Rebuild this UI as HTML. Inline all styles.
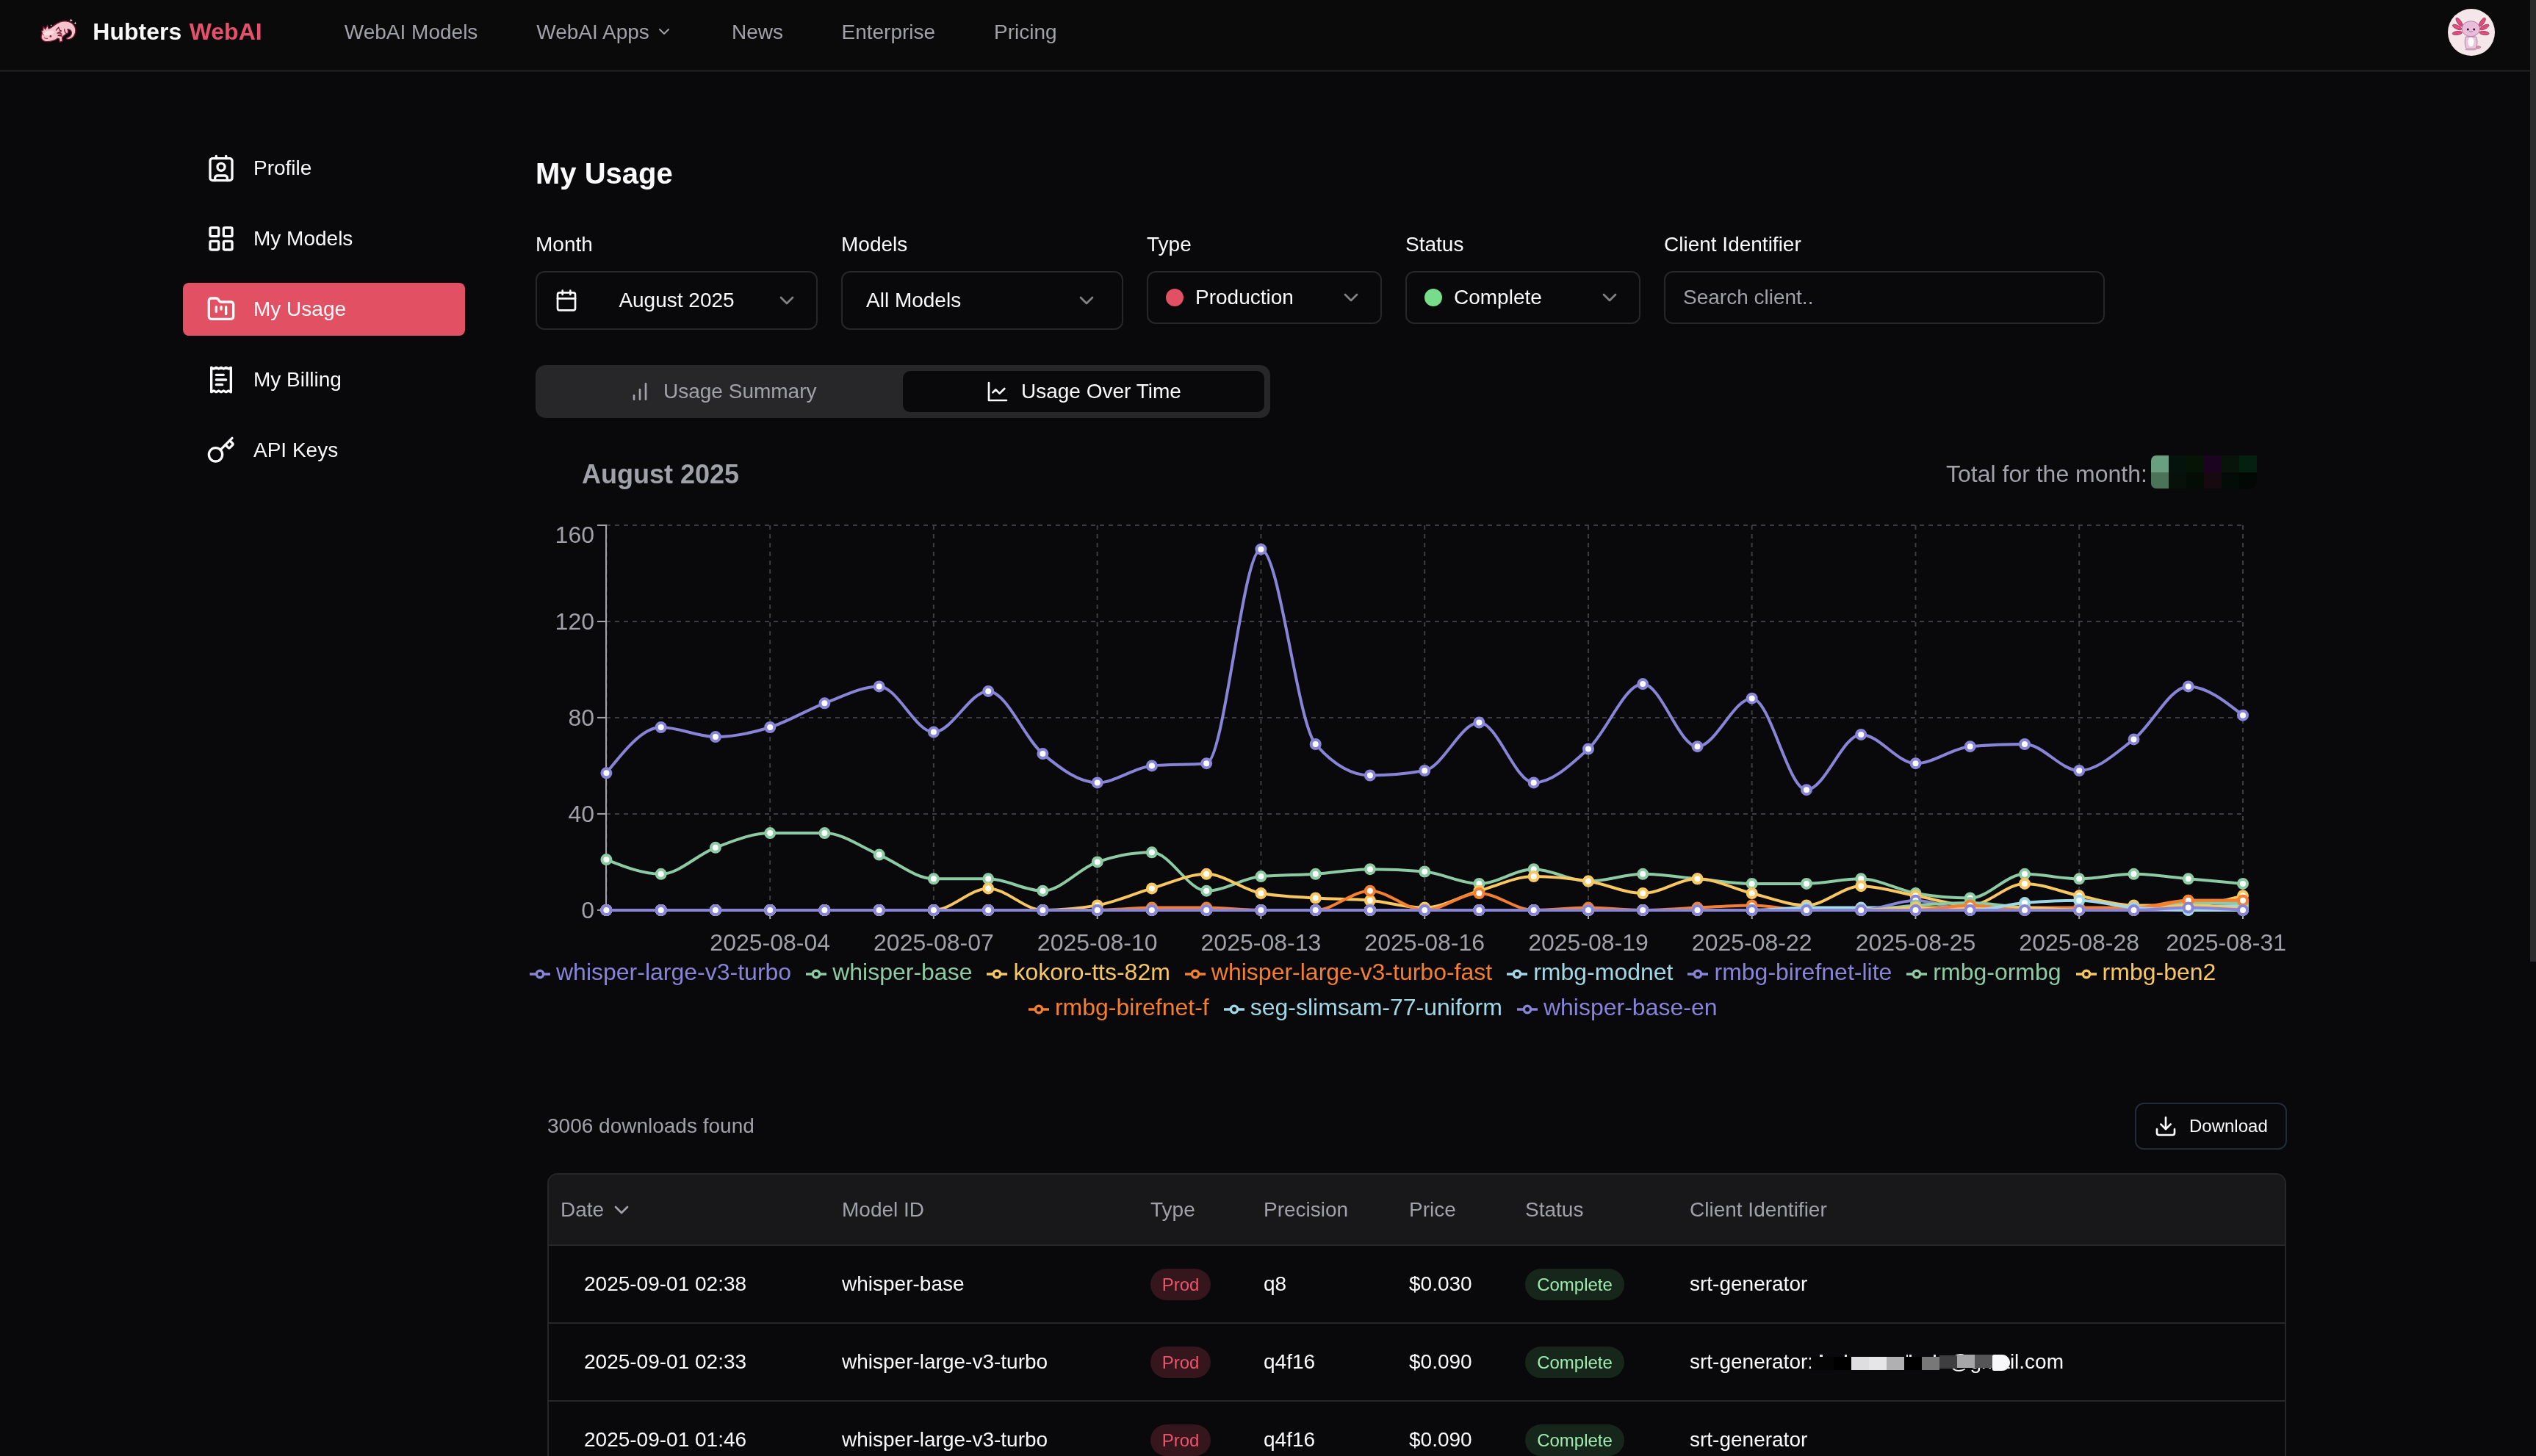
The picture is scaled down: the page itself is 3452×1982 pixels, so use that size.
<!DOCTYPE html>
<html><head><meta charset="utf-8"><title>Hubters WebAI - My Usage</title>
<style>
html,body{margin:0;padding:0;background:#09090b;}
body{width:3452px;height:1982px;position:relative;overflow:hidden;font-family:"Liberation Sans",sans-serif;color:#fafafa;}
#root{position:absolute;left:0;top:0;width:3452px;height:1982px;overflow:hidden;will-change:transform;background:#09090b;}
.abs{position:absolute;}
.t{white-space:nowrap;}
.legend{position:absolute;left:704.2px;top:1299px;width:2349px;text-align:center;font-size:32px;line-height:48px;white-space:nowrap;}
.legend .li{display:inline-block;margin-right:20px;}
.legend svg{display:inline-block;vertical-align:middle;margin-right:8px;}
</style></head><body><div id="root">
<div class="abs" style="left:0;top:0;width:3452px;height:96px;background:#0a0a0a"></div>
<div class="abs" style="left:0;top:95px;width:3452px;height:1px;background:#131313"></div>
<div class="abs" style="left:0;top:96px;width:3452px;height:1px;background:#2a2a2a"></div>
<div class="abs" style="left:0;top:97px;width:3452px;height:1px;background:#131315"></div>
<svg class="abs" style="left:45px;top:15px" width="70" height="55" viewBox="0 0 1853 1456">
<g stroke="#7d1935" stroke-width="34" stroke-linejoin="round" stroke-linecap="round">
<path fill="#f4c3cc" d="M330 800 L300 720 L360 700 L370 560 L440 660 L520 510 L560 640 C680 620 760 480 960 400 C1150 330 1400 360 1500 560 C1580 740 1500 960 1320 1010 C1250 1025 1190 1000 1200 970 C1300 950 1400 880 1385 760 C1375 690 1300 650 1240 665 C1290 740 1270 800 1210 815 C1150 860 1080 900 1050 960 L1060 1090 L960 1120 L940 1000 L880 985 C800 1060 600 1120 450 1100 C340 1080 270 980 300 880 Z"/>
<path fill="none" d="M830 690 L920 590 L960 690 L1020 720 L870 800 L990 790 L1030 840 L900 880 L1040 900"/>
<path fill="none" d="M1130 650 C1130 720 1160 790 1210 815"/>
</g>
<path fill="#f9dde2" d="M380 800 C480 700 700 680 780 760 C700 860 500 900 380 860 Z"/>
<circle cx="632" cy="910" r="36" fill="#7d1935"/><circle cx="372" cy="860" r="22" fill="#7d1935"/>
<path d="M400 970 Q460 1000 520 992" fill="none" stroke="#7d1935" stroke-width="22" stroke-linecap="round"/>
<path fill="#f7d3da" d="M1370 280 L1390 315 L1425 332 L1390 350 L1370 385 L1350 350 L1315 332 L1350 315Z M1520 390 L1537 422 L1568 437 L1537 452 L1520 485 L1503 452 L1472 437 L1503 422Z M655 485 L668 505 L690 512 L668 520 L655 540 L642 520 L620 512 L642 505Z"/>
</svg>
<div class="abs t" style="left:126.3px;top:26.91px;font-size:32px;line-height:32px;color:#fafafa;font-weight:bold;"><span>Hubters </span><span style="color:#e5506a;margin-left:1.6px">WebAI</span></div>
<div class="abs t" style="left:468.8px;top:29.70px;font-size:28px;line-height:28px;color:#a1a1aa;font-weight:normal;">WebAI Models</div>
<div class="abs t" style="left:730.3px;top:29.70px;font-size:28px;line-height:28px;color:#a1a1aa;font-weight:normal;">WebAI Apps</div>
<svg class="abs" style="left:892px;top:31px;" width="24" height="24" viewBox="0 0 24 24" fill="none" stroke="#a1a1aa" stroke-width="2" stroke-linecap="round" stroke-linejoin="round"><path d="m6 9 6 6 6-6"/></svg>
<div class="abs t" style="left:996px;top:29.70px;font-size:28px;line-height:28px;color:#a1a1aa;font-weight:normal;">News</div>
<div class="abs t" style="left:1145.5px;top:29.70px;font-size:28px;line-height:28px;color:#a1a1aa;font-weight:normal;">Enterprise</div>
<div class="abs t" style="left:1353px;top:29.70px;font-size:28px;line-height:28px;color:#a1a1aa;font-weight:normal;">Pricing</div>
<svg class="abs" style="left:3332px;top:12px" width="64" height="64" viewBox="0 0 64 64">
<circle cx="32" cy="32" r="32" fill="#f5e6ea"/>
<g fill="#d8507e" stroke="#a82c58" stroke-width="0.8">
<ellipse cx="15.6" cy="18.2" rx="2.6" ry="7" transform="rotate(-35 15.6 18.2)"/>
<ellipse cx="12.6" cy="25" rx="2.6" ry="6.8" transform="rotate(-64 12.6 25)"/>
<ellipse cx="12.8" cy="33" rx="2.5" ry="6.6" transform="rotate(-97 12.8 33)"/>
<ellipse cx="46.8" cy="18.2" rx="2.6" ry="7" transform="rotate(35 46.8 18.2)"/>
<ellipse cx="49.8" cy="25" rx="2.6" ry="6.8" transform="rotate(64 49.8 25)"/>
<ellipse cx="49.6" cy="33" rx="2.5" ry="6.6" transform="rotate(97 49.6 33)"/>
</g>
<path d="M45 52 C42 50 38 50 38 54 C40 54 43 55 45 52Z" fill="#e38bb0" stroke="#b04870" stroke-width=".6"/>
<path d="M24.5 38 C22 44 23.5 52 25.5 54.5 L37.5 54.5 C40 52 41 44 38.5 38Z" fill="#ecc3dc" stroke="#9a5c84" stroke-width=".7"/>
<ellipse cx="31.5" cy="45" rx="4" ry="6.5" fill="#fff"/>
<ellipse cx="31.3" cy="27.2" rx="12.3" ry="10.5" fill="#e9bdd9" stroke="#9a5c84" stroke-width=".7"/>
<circle cx="27.3" cy="28" r="1.5" fill="#2a1a30"/><circle cx="35.7" cy="28" r="1.5" fill="#2a1a30"/>
<path d="M29.5 30.8 Q31.5 32.6 33.5 30.8" fill="none" stroke="#5a2a4a" stroke-width=".6" stroke-linecap="round"/>
<ellipse cx="31" cy="55.5" rx="8" ry="1" fill="#c9a3b5"/>
</svg>
<svg class="abs" style="left:281px;top:209px;" width="40" height="40" viewBox="0 0 24 24" fill="none" stroke="#fafafa" stroke-width="2" stroke-linecap="round" stroke-linejoin="round"><path d="M16 2v2"/><path d="M7 22v-2a2 2 0 0 1 2-2h6a2 2 0 0 1 2 2v2"/><path d="M8 2v2"/><circle cx="12" cy="11" r="3"/><rect x="3" y="4" width="18" height="18" rx="2"/></svg>
<div class="abs t" style="left:345px;top:215.40px;font-size:28px;line-height:28px;color:#fafafa;font-weight:normal;">Profile</div>
<svg class="abs" style="left:281px;top:305px;" width="40" height="40" viewBox="0 0 24 24" fill="none" stroke="#fafafa" stroke-width="2" stroke-linecap="round" stroke-linejoin="round"><rect width="7" height="7" x="3" y="3" rx="1"/><rect width="7" height="7" x="14" y="3" rx="1"/><rect width="7" height="7" x="14" y="14" rx="1"/><rect width="7" height="7" x="3" y="14" rx="1"/></svg>
<div class="abs t" style="left:345px;top:311.40px;font-size:28px;line-height:28px;color:#fafafa;font-weight:normal;">My Models</div>
<div class="abs" style="left:249px;top:385px;width:384px;height:72px;border-radius:8px;background:#e15063"></div>
<svg class="abs" style="left:281px;top:401px;" width="40" height="40" viewBox="0 0 24 24" fill="none" stroke="#fafafa" stroke-width="2" stroke-linecap="round" stroke-linejoin="round"><path d="M4 20h16a2 2 0 0 0 2-2V8a2 2 0 0 0-2-2h-7.93a2 2 0 0 1-1.66-.9l-.82-1.2A2 2 0 0 0 7.93 3H4a2 2 0 0 0-2 2v13c0 1.1.9 2 2 2Z"/><path d="M8 10v4"/><path d="M12 10v2"/><path d="M16 10v6"/></svg>
<div class="abs t" style="left:345px;top:407.40px;font-size:28px;line-height:28px;color:#fafafa;font-weight:normal;">My Usage</div>
<svg class="abs" style="left:281px;top:497px;" width="40" height="40" viewBox="0 0 24 24" fill="none" stroke="#fafafa" stroke-width="2" stroke-linecap="round" stroke-linejoin="round"><path d="M4 2v20l2-1 2 1 2-1 2 1 2-1 2 1 2-1 2 1V2l-2 1-2-1-2 1-2-1-2 1-2-1-2 1Z"/><path d="M14 8H8"/><path d="M16 12H8"/><path d="M13 16H8"/></svg>
<div class="abs t" style="left:345px;top:503.40px;font-size:28px;line-height:28px;color:#fafafa;font-weight:normal;">My Billing</div>
<svg class="abs" style="left:281px;top:593px;" width="40" height="40" viewBox="0 0 24 24" fill="none" stroke="#fafafa" stroke-width="2" stroke-linecap="round" stroke-linejoin="round"><path d="m15.5 7.5 2.3 2.3a1 1 0 0 0 1.4 0l2.1-2.1a1 1 0 0 0 0-1.4L19 4"/><path d="m21 2-9.6 9.6"/><circle cx="7.5" cy="15.5" r="5.5"/></svg>
<div class="abs t" style="left:345px;top:599.40px;font-size:28px;line-height:28px;color:#fafafa;font-weight:normal;">API Keys</div>
<div class="abs t" style="left:729px;top:216.44px;font-size:40px;line-height:40px;color:#fafafa;font-weight:bold;">My Usage</div>
<div class="abs t" style="left:729px;top:318.60px;font-size:28px;line-height:28px;color:#fafafa;font-weight:normal;">Month</div>
<div class="abs t" style="left:1145px;top:318.60px;font-size:28px;line-height:28px;color:#fafafa;font-weight:normal;">Models</div>
<div class="abs t" style="left:1561px;top:318.60px;font-size:28px;line-height:28px;color:#fafafa;font-weight:normal;">Type</div>
<div class="abs t" style="left:1913px;top:318.60px;font-size:28px;line-height:28px;color:#fafafa;font-weight:normal;">Status</div>
<div class="abs t" style="left:2265px;top:318.60px;font-size:28px;line-height:28px;color:#fafafa;font-weight:normal;">Client Identifier</div>
<div class="abs" style="left:729px;top:369px;width:384px;height:80px;border:2px solid #27272a;border-radius:12px;box-sizing:border-box;"></div>
<svg class="abs" style="left:755px;top:393px;" width="32" height="32" viewBox="0 0 24 24" fill="none" stroke="#fafafa" stroke-width="2" stroke-linecap="round" stroke-linejoin="round"><path d="M8 2v4"/><path d="M16 2v4"/><rect width="18" height="18" x="3" y="4" rx="2"/><path d="M3 10h18"/></svg>
<div class="abs t" style="left:729px;width:384px;text-align:center;top:395.20px;font-size:28px;line-height:28px;color:#fafafa">August 2025</div>
<svg class="abs" style="left:1055px;top:393px;opacity:.5" width="32" height="32" viewBox="0 0 24 24" fill="none" stroke="#fafafa" stroke-width="2" stroke-linecap="round" stroke-linejoin="round"><path d="m6 9 6 6 6-6"/></svg>
<div class="abs" style="left:1145px;top:369px;width:384px;height:80px;border:2px solid #27272a;border-radius:12px;box-sizing:border-box;"></div>
<div class="abs t" style="left:1179px;top:395.20px;font-size:28px;line-height:28px;color:#fafafa;font-weight:normal;">All Models</div>
<svg class="abs" style="left:1463px;top:393px;opacity:.5" width="32" height="32" viewBox="0 0 24 24" fill="none" stroke="#fafafa" stroke-width="2" stroke-linecap="round" stroke-linejoin="round"><path d="m6 9 6 6 6-6"/></svg>
<div class="abs" style="left:1561px;top:369px;width:320px;height:72px;border:2px solid #27272a;border-radius:12px;box-sizing:border-box;"></div>
<div class="abs" style="left:1587px;top:393px;width:24px;height:24px;border-radius:50%;background:#e15063"></div>
<div class="abs t" style="left:1627px;top:391.20px;font-size:28px;line-height:28px;color:#fafafa;font-weight:normal;">Production</div>
<svg class="abs" style="left:1823px;top:389px;opacity:.5" width="32" height="32" viewBox="0 0 24 24" fill="none" stroke="#fafafa" stroke-width="2" stroke-linecap="round" stroke-linejoin="round"><path d="m6 9 6 6 6-6"/></svg>
<div class="abs" style="left:1913px;top:369px;width:320px;height:72px;border:2px solid #27272a;border-radius:12px;box-sizing:border-box;"></div>
<div class="abs" style="left:1939px;top:393px;width:24px;height:24px;border-radius:50%;background:#77dd8a"></div>
<div class="abs t" style="left:1979px;top:391.20px;font-size:28px;line-height:28px;color:#fafafa;font-weight:normal;">Complete</div>
<svg class="abs" style="left:2175px;top:389px;opacity:.5" width="32" height="32" viewBox="0 0 24 24" fill="none" stroke="#fafafa" stroke-width="2" stroke-linecap="round" stroke-linejoin="round"><path d="m6 9 6 6 6-6"/></svg>
<div class="abs" style="left:2265px;top:369px;width:600px;height:72px;border:2px solid #27272a;border-radius:12px;box-sizing:border-box;"></div>
<div class="abs t" style="left:2291px;top:391.20px;font-size:28px;line-height:28px;color:#a1a1aa;font-weight:normal;">Search client..</div>
<div class="abs" style="left:729px;top:497px;width:1000px;height:72px;border-radius:14px;background:#27272a"></div>
<div class="abs" style="left:1229px;top:505px;width:492px;height:56px;border-radius:10px;background:#09090b"></div>
<svg class="abs" style="left:855px;top:517px;" width="32" height="32" viewBox="0 0 24 24" fill="none" stroke="#a1a1aa" stroke-width="2" stroke-linecap="round" stroke-linejoin="round"><line x1="12" x2="12" y1="20" y2="10"/><line x1="18" x2="18" y1="20" y2="4"/><line x1="6" x2="6" y1="20" y2="16"/></svg>
<div class="abs t" style="left:903px;top:518.60px;font-size:28px;line-height:28px;color:#a1a1aa;font-weight:normal;">Usage Summary</div>
<svg class="abs" style="left:1342px;top:517px;" width="32" height="32" viewBox="0 0 24 24" fill="none" stroke="#fafafa" stroke-width="2" stroke-linecap="round" stroke-linejoin="round"><path d="M3 3v18h18"/><path d="m19 9-5 5-4-4-3 3"/></svg>
<div class="abs t" style="left:1390px;top:518.60px;font-size:28px;line-height:28px;color:#fafafa;font-weight:normal;">Usage Over Time</div>
<div class="abs t" style="left:792px;top:628.13px;font-size:36px;line-height:36px;color:#a1a1aa;font-weight:bold;">August 2025</div>
<div class="abs t" style="left:2649px;top:628.71px;font-size:32px;line-height:32px;color:#a1a1aa;font-weight:normal;">Total for the month:</div>
<div class="abs" style="left:2928px;top:620px;width:144px;height:45px;border-radius:7px 0 12px 7px;overflow:hidden"><div class="abs" style="left:0px;top:0;width:24px;height:23px;background:#6a9f80"></div><div class="abs" style="left:0px;top:23px;width:24px;height:22px;background:#4a7358"></div><div class="abs" style="left:24px;top:0;width:24px;height:23px;background:#04140c"></div><div class="abs" style="left:24px;top:23px;width:24px;height:22px;background:#08100a"></div><div class="abs" style="left:48px;top:0;width:24px;height:23px;background:#051405"></div><div class="abs" style="left:48px;top:23px;width:24px;height:22px;background:#040c06"></div><div class="abs" style="left:72px;top:0;width:24px;height:23px;background:#1a0420"></div><div class="abs" style="left:72px;top:23px;width:24px;height:22px;background:#160a10"></div><div class="abs" style="left:96px;top:0;width:24px;height:23px;background:#08140a"></div><div class="abs" style="left:96px;top:23px;width:24px;height:22px;background:#040c08"></div><div class="abs" style="left:120px;top:0;width:24px;height:23px;background:#04200f"></div><div class="abs" style="left:120px;top:23px;width:24px;height:22px;background:#020804"></div></div>
<svg class="abs" style="left:0;top:0" width="3452" height="1982" viewBox="0 0 3452 1982">
<g stroke="#3c3c41" stroke-width="2" stroke-dasharray="6 6" fill="none"><line x1="825" x2="3054" y1="1238.9" y2="1238.9"/><line x1="825" x2="3054" y1="1107.9" y2="1107.9"/><line x1="825" x2="3054" y1="976.9" y2="976.9"/><line x1="825" x2="3054" y1="846.0" y2="846.0"/><line x1="825" x2="3054" y1="715.0" y2="715.0"/><line y1="715" y2="1239" x1="825.4" x2="825.4"/><line y1="715" y2="1239" x1="1048.2" x2="1048.2"/><line y1="715" y2="1239" x1="1270.9" x2="1270.9"/><line y1="715" y2="1239" x1="1493.7" x2="1493.7"/><line y1="715" y2="1239" x1="1716.4" x2="1716.4"/><line y1="715" y2="1239" x1="1939.2" x2="1939.2"/><line y1="715" y2="1239" x1="2162.0" x2="2162.0"/><line y1="715" y2="1239" x1="2384.7" x2="2384.7"/><line y1="715" y2="1239" x1="2607.5" x2="2607.5"/><line y1="715" y2="1239" x1="2830.2" x2="2830.2"/><line y1="715" y2="1239" x1="3053.0" x2="3053.0"/></g>
<g stroke="#a3a3a8" stroke-width="2" fill="none"><line x1="825" x2="825" y1="714" y2="1240"/><line x1="825" x2="3054" y1="1239" y2="1239"/><line x1="813" x2="825" y1="1238.9" y2="1238.9"/><line x1="813" x2="825" y1="1107.9" y2="1107.9"/><line x1="813" x2="825" y1="976.9" y2="976.9"/><line x1="813" x2="825" y1="846.0" y2="846.0"/><line x1="813" x2="825" y1="715.0" y2="715.0"/><line y1="1239" y2="1251" x1="1048.2" x2="1048.2"/><line y1="1239" y2="1251" x1="1270.9" x2="1270.9"/><line y1="1239" y2="1251" x1="1493.7" x2="1493.7"/><line y1="1239" y2="1251" x1="1716.4" x2="1716.4"/><line y1="1239" y2="1251" x1="1939.2" x2="1939.2"/><line y1="1239" y2="1251" x1="2162.0" x2="2162.0"/><line y1="1239" y2="1251" x1="2384.7" x2="2384.7"/><line y1="1239" y2="1251" x1="2607.5" x2="2607.5"/><line y1="1239" y2="1251" x1="2830.2" x2="2830.2"/><line y1="1239" y2="1251" x1="3053.0" x2="3053.0"/></g>
<g fill="#a1a1aa" font-family="Liberation Sans, sans-serif" font-size="32"><text x="809" y="1249.9" text-anchor="end">0</text><text x="809" y="1118.9" text-anchor="end">40</text><text x="809" y="987.9" text-anchor="end">80</text><text x="809" y="857.0" text-anchor="end">120</text><text x="809" y="739.0" text-anchor="end">160</text><text x="1048.2" y="1293.7" text-anchor="middle">2025-08-04</text><text x="1270.9" y="1293.7" text-anchor="middle">2025-08-07</text><text x="1493.7" y="1293.7" text-anchor="middle">2025-08-10</text><text x="1716.4" y="1293.7" text-anchor="middle">2025-08-13</text><text x="1939.2" y="1293.7" text-anchor="middle">2025-08-16</text><text x="2162.0" y="1293.7" text-anchor="middle">2025-08-19</text><text x="2384.7" y="1293.7" text-anchor="middle">2025-08-22</text><text x="2607.5" y="1293.7" text-anchor="middle">2025-08-25</text><text x="2830.2" y="1293.7" text-anchor="middle">2025-08-28</text><text x="3112" y="1293.7" text-anchor="end">2025-08-31</text></g>
<path d="M825.4,1052.3C850.2,1021.1,874.9,990.0,899.7,990.0C924.4,990.0,949.2,1003.1,973.9,1003.1C998.7,1003.1,1023.4,997.7,1048.2,990.0C1072.9,982.4,1097.7,966.6,1122.4,957.3C1147.2,948.0,1171.9,934.4,1196.7,934.4C1221.4,934.4,1246.2,996.6,1270.9,996.6C1295.7,996.6,1320.4,940.9,1345.2,940.9C1369.9,940.9,1394.7,1005.3,1419.4,1026.1C1444.2,1046.8,1468.9,1065.4,1493.7,1065.4C1518.4,1065.4,1543.2,1044.6,1567.9,1042.4C1592.7,1040.2,1617.4,1041.3,1642.2,1039.2C1666.9,1037.0,1691.7,747.7,1716.4,747.7C1741.2,747.7,1765.9,984.6,1790.7,1013.0C1815.4,1041.3,1840.2,1055.5,1864.9,1055.5C1889.7,1055.5,1914.4,1053.3,1939.2,1049.0C1963.9,1044.6,1988.7,983.5,2013.4,983.5C2038.2,983.5,2062.9,1065.4,2087.7,1065.4C2112.5,1065.4,2137.2,1041.9,2162.0,1019.5C2186.7,997.1,2211.5,931.1,2236.2,931.1C2261.0,931.1,2285.7,1016.2,2310.5,1016.2C2335.2,1016.2,2360.0,950.7,2384.7,950.7C2409.5,950.7,2434.2,1075.2,2459.0,1075.2C2483.7,1075.2,2508.5,999.9,2533.2,999.9C2558.0,999.9,2582.7,1039.2,2607.5,1039.2C2632.2,1039.2,2657.0,1018.4,2681.7,1016.2C2706.5,1014.1,2731.2,1013.0,2756.0,1013.0C2780.7,1013.0,2805.5,1049.0,2830.2,1049.0C2855.0,1049.0,2879.7,1025.5,2904.5,1006.4C2929.2,987.3,2954.0,934.4,2978.7,934.4C3003.5,934.4,3028.2,954.0,3053.0,973.7" fill="none" stroke="#8884d8" stroke-width="4"/>
<g fill="#fff" stroke="#8884d8" stroke-width="4"><circle cx="825.4" cy="1052.3" r="6"/><circle cx="899.7" cy="990.0" r="6"/><circle cx="973.9" cy="1003.1" r="6"/><circle cx="1048.2" cy="990.0" r="6"/><circle cx="1122.4" cy="957.3" r="6"/><circle cx="1196.7" cy="934.4" r="6"/><circle cx="1270.9" cy="996.6" r="6"/><circle cx="1345.2" cy="940.9" r="6"/><circle cx="1419.4" cy="1026.1" r="6"/><circle cx="1493.7" cy="1065.4" r="6"/><circle cx="1567.9" cy="1042.4" r="6"/><circle cx="1642.2" cy="1039.2" r="6"/><circle cx="1716.4" cy="747.7" r="6"/><circle cx="1790.7" cy="1013.0" r="6"/><circle cx="1864.9" cy="1055.5" r="6"/><circle cx="1939.2" cy="1049.0" r="6"/><circle cx="2013.4" cy="983.5" r="6"/><circle cx="2087.7" cy="1065.4" r="6"/><circle cx="2162.0" cy="1019.5" r="6"/><circle cx="2236.2" cy="931.1" r="6"/><circle cx="2310.5" cy="1016.2" r="6"/><circle cx="2384.7" cy="950.7" r="6"/><circle cx="2459.0" cy="1075.2" r="6"/><circle cx="2533.2" cy="999.9" r="6"/><circle cx="2607.5" cy="1039.2" r="6"/><circle cx="2681.7" cy="1016.2" r="6"/><circle cx="2756.0" cy="1013.0" r="6"/><circle cx="2830.2" cy="1049.0" r="6"/><circle cx="2904.5" cy="1006.4" r="6"/><circle cx="2978.7" cy="934.4" r="6"/><circle cx="3053.0" cy="973.7" r="6"/></g>
<path d="M825.4,1170.1C850.2,1180.0,874.9,1189.8,899.7,1189.8C924.4,1189.8,949.2,1163.0,973.9,1153.8C998.7,1144.5,1023.4,1134.1,1048.2,1134.1C1072.9,1134.1,1097.7,1134.1,1122.4,1134.1C1147.2,1134.1,1171.9,1153.2,1196.7,1163.6C1221.4,1174.0,1246.2,1196.3,1270.9,1196.3C1295.7,1196.3,1320.4,1196.3,1345.2,1196.3C1369.9,1196.3,1394.7,1212.7,1419.4,1212.7C1444.2,1212.7,1468.9,1182.1,1493.7,1173.4C1518.4,1164.7,1543.2,1160.3,1567.9,1160.3C1592.7,1160.3,1617.4,1212.7,1642.2,1212.7C1666.9,1212.7,1691.7,1195.2,1716.4,1193.1C1741.2,1190.9,1765.9,1191.4,1790.7,1189.8C1815.4,1188.1,1840.2,1183.2,1864.9,1183.2C1889.7,1183.2,1914.4,1184.3,1939.2,1186.5C1963.9,1188.7,1988.7,1202.9,2013.4,1202.9C2038.2,1202.9,2062.9,1183.2,2087.7,1183.2C2112.5,1183.2,2137.2,1199.6,2162.0,1199.6C2186.7,1199.6,2211.5,1189.8,2236.2,1189.8C2261.0,1189.8,2285.7,1194.1,2310.5,1196.3C2335.2,1198.5,2360.0,1202.9,2384.7,1202.9C2409.5,1202.9,2434.2,1202.9,2459.0,1202.9C2483.7,1202.9,2508.5,1196.3,2533.2,1196.3C2558.0,1196.3,2582.7,1211.6,2607.5,1216.0C2632.2,1220.3,2657.0,1222.5,2681.7,1222.5C2706.5,1222.5,2731.2,1189.8,2756.0,1189.8C2780.7,1189.8,2805.5,1196.3,2830.2,1196.3C2855.0,1196.3,2879.7,1189.8,2904.5,1189.8C2929.2,1189.8,2954.0,1194.1,2978.7,1196.3C3003.5,1198.5,3028.2,1200.7,3053.0,1202.9" fill="none" stroke="#8ccba3" stroke-width="4"/>
<g fill="#fff" stroke="#8ccba3" stroke-width="4"><circle cx="825.4" cy="1170.1" r="6"/><circle cx="899.7" cy="1189.8" r="6"/><circle cx="973.9" cy="1153.8" r="6"/><circle cx="1048.2" cy="1134.1" r="6"/><circle cx="1122.4" cy="1134.1" r="6"/><circle cx="1196.7" cy="1163.6" r="6"/><circle cx="1270.9" cy="1196.3" r="6"/><circle cx="1345.2" cy="1196.3" r="6"/><circle cx="1419.4" cy="1212.7" r="6"/><circle cx="1493.7" cy="1173.4" r="6"/><circle cx="1567.9" cy="1160.3" r="6"/><circle cx="1642.2" cy="1212.7" r="6"/><circle cx="1716.4" cy="1193.1" r="6"/><circle cx="1790.7" cy="1189.8" r="6"/><circle cx="1864.9" cy="1183.2" r="6"/><circle cx="1939.2" cy="1186.5" r="6"/><circle cx="2013.4" cy="1202.9" r="6"/><circle cx="2087.7" cy="1183.2" r="6"/><circle cx="2162.0" cy="1199.6" r="6"/><circle cx="2236.2" cy="1189.8" r="6"/><circle cx="2310.5" cy="1196.3" r="6"/><circle cx="2384.7" cy="1202.9" r="6"/><circle cx="2459.0" cy="1202.9" r="6"/><circle cx="2533.2" cy="1196.3" r="6"/><circle cx="2607.5" cy="1216.0" r="6"/><circle cx="2681.7" cy="1222.5" r="6"/><circle cx="2756.0" cy="1189.8" r="6"/><circle cx="2830.2" cy="1196.3" r="6"/><circle cx="2904.5" cy="1189.8" r="6"/><circle cx="2978.7" cy="1196.3" r="6"/><circle cx="3053.0" cy="1202.9" r="6"/></g>
<path d="M825.4,1238.9C850.2,1238.9,874.9,1238.9,899.7,1238.9C924.4,1238.9,949.2,1238.9,973.9,1238.9C998.7,1238.9,1023.4,1238.9,1048.2,1238.9C1072.9,1238.9,1097.7,1238.9,1122.4,1238.9C1147.2,1238.9,1171.9,1238.9,1196.7,1238.9C1221.4,1238.9,1246.2,1238.9,1270.9,1238.9C1295.7,1238.9,1320.4,1209.4,1345.2,1209.4C1369.9,1209.4,1394.7,1238.9,1419.4,1238.9C1444.2,1238.9,1468.9,1236.7,1493.7,1232.4C1518.4,1228.0,1543.2,1216.5,1567.9,1209.4C1592.7,1202.3,1617.4,1189.8,1642.2,1189.8C1666.9,1189.8,1691.7,1211.6,1716.4,1216.0C1741.2,1220.3,1765.9,1220.9,1790.7,1222.5C1815.4,1224.2,1840.2,1223.6,1864.9,1225.8C1889.7,1228.0,1914.4,1235.6,1939.2,1235.6C1963.9,1235.6,1988.7,1219.8,2013.4,1212.7C2038.2,1205.6,2062.9,1193.1,2087.7,1193.1C2112.5,1193.1,2137.2,1195.8,2162.0,1199.6C2186.7,1203.4,2211.5,1216.0,2236.2,1216.0C2261.0,1216.0,2285.7,1196.3,2310.5,1196.3C2335.2,1196.3,2360.0,1210.0,2384.7,1216.0C2409.5,1222.0,2434.2,1232.4,2459.0,1232.4C2483.7,1232.4,2508.5,1206.2,2533.2,1206.2C2558.0,1206.2,2582.7,1214.9,2607.5,1219.3C2632.2,1223.6,2657.0,1232.4,2681.7,1232.4C2706.5,1232.4,2731.2,1202.9,2756.0,1202.9C2780.7,1202.9,2805.5,1214.3,2830.2,1219.3C2855.0,1224.2,2879.7,1232.4,2904.5,1232.4C2929.2,1232.4,2954.0,1232.4,2978.7,1232.4C3003.5,1232.4,3028.2,1225.8,3053.0,1219.3" fill="none" stroke="#f9c75f" stroke-width="4"/>
<g fill="#fff" stroke="#f9c75f" stroke-width="4"><circle cx="825.4" cy="1238.9" r="6"/><circle cx="899.7" cy="1238.9" r="6"/><circle cx="973.9" cy="1238.9" r="6"/><circle cx="1048.2" cy="1238.9" r="6"/><circle cx="1122.4" cy="1238.9" r="6"/><circle cx="1196.7" cy="1238.9" r="6"/><circle cx="1270.9" cy="1238.9" r="6"/><circle cx="1345.2" cy="1209.4" r="6"/><circle cx="1419.4" cy="1238.9" r="6"/><circle cx="1493.7" cy="1232.4" r="6"/><circle cx="1567.9" cy="1209.4" r="6"/><circle cx="1642.2" cy="1189.8" r="6"/><circle cx="1716.4" cy="1216.0" r="6"/><circle cx="1790.7" cy="1222.5" r="6"/><circle cx="1864.9" cy="1225.8" r="6"/><circle cx="1939.2" cy="1235.6" r="6"/><circle cx="2013.4" cy="1212.7" r="6"/><circle cx="2087.7" cy="1193.1" r="6"/><circle cx="2162.0" cy="1199.6" r="6"/><circle cx="2236.2" cy="1216.0" r="6"/><circle cx="2310.5" cy="1196.3" r="6"/><circle cx="2384.7" cy="1216.0" r="6"/><circle cx="2459.0" cy="1232.4" r="6"/><circle cx="2533.2" cy="1206.2" r="6"/><circle cx="2607.5" cy="1219.3" r="6"/><circle cx="2681.7" cy="1232.4" r="6"/><circle cx="2756.0" cy="1202.9" r="6"/><circle cx="2830.2" cy="1219.3" r="6"/><circle cx="2904.5" cy="1232.4" r="6"/><circle cx="2978.7" cy="1232.4" r="6"/><circle cx="3053.0" cy="1219.3" r="6"/></g>
<path d="M825.4,1238.9C850.2,1238.9,874.9,1238.9,899.7,1238.9C924.4,1238.9,949.2,1238.9,973.9,1238.9C998.7,1238.9,1023.4,1238.9,1048.2,1238.9C1072.9,1238.9,1097.7,1238.9,1122.4,1238.9C1147.2,1238.9,1171.9,1238.9,1196.7,1238.9C1221.4,1238.9,1246.2,1238.9,1270.9,1238.9C1295.7,1238.9,1320.4,1238.9,1345.2,1238.9C1369.9,1238.9,1394.7,1238.9,1419.4,1238.9C1444.2,1238.9,1468.9,1238.9,1493.7,1238.9C1518.4,1238.9,1543.2,1235.6,1567.9,1235.6C1592.7,1235.6,1617.4,1235.6,1642.2,1235.6C1666.9,1235.6,1691.7,1238.9,1716.4,1238.9C1741.2,1238.9,1765.9,1238.9,1790.7,1238.9C1815.4,1238.9,1840.2,1212.7,1864.9,1212.7C1889.7,1212.7,1914.4,1238.9,1939.2,1238.9C1963.9,1238.9,1988.7,1216.0,2013.4,1216.0C2038.2,1216.0,2062.9,1238.9,2087.7,1238.9C2112.5,1238.9,2137.2,1235.6,2162.0,1235.6C2186.7,1235.6,2211.5,1238.9,2236.2,1238.9C2261.0,1238.9,2285.7,1236.7,2310.5,1235.6C2335.2,1234.5,2360.0,1232.4,2384.7,1232.4C2409.5,1232.4,2434.2,1238.9,2459.0,1238.9C2483.7,1238.9,2508.5,1238.9,2533.2,1238.9C2558.0,1238.9,2582.7,1238.9,2607.5,1238.9C2632.2,1238.9,2657.0,1232.4,2681.7,1232.4C2706.5,1232.4,2731.2,1235.6,2756.0,1235.6C2780.7,1235.6,2805.5,1235.6,2830.2,1235.6C2855.0,1235.6,2879.7,1235.6,2904.5,1235.6C2929.2,1235.6,2954.0,1225.8,2978.7,1225.8C3003.5,1225.8,3028.2,1225.8,3053.0,1225.8" fill="none" stroke="#f47f30" stroke-width="4"/>
<g fill="#fff" stroke="#f47f30" stroke-width="4"><circle cx="825.4" cy="1238.9" r="6"/><circle cx="899.7" cy="1238.9" r="6"/><circle cx="973.9" cy="1238.9" r="6"/><circle cx="1048.2" cy="1238.9" r="6"/><circle cx="1122.4" cy="1238.9" r="6"/><circle cx="1196.7" cy="1238.9" r="6"/><circle cx="1270.9" cy="1238.9" r="6"/><circle cx="1345.2" cy="1238.9" r="6"/><circle cx="1419.4" cy="1238.9" r="6"/><circle cx="1493.7" cy="1238.9" r="6"/><circle cx="1567.9" cy="1235.6" r="6"/><circle cx="1642.2" cy="1235.6" r="6"/><circle cx="1716.4" cy="1238.9" r="6"/><circle cx="1790.7" cy="1238.9" r="6"/><circle cx="1864.9" cy="1212.7" r="6"/><circle cx="1939.2" cy="1238.9" r="6"/><circle cx="2013.4" cy="1216.0" r="6"/><circle cx="2087.7" cy="1238.9" r="6"/><circle cx="2162.0" cy="1235.6" r="6"/><circle cx="2236.2" cy="1238.9" r="6"/><circle cx="2310.5" cy="1235.6" r="6"/><circle cx="2384.7" cy="1232.4" r="6"/><circle cx="2459.0" cy="1238.9" r="6"/><circle cx="2533.2" cy="1238.9" r="6"/><circle cx="2607.5" cy="1238.9" r="6"/><circle cx="2681.7" cy="1232.4" r="6"/><circle cx="2756.0" cy="1235.6" r="6"/><circle cx="2830.2" cy="1235.6" r="6"/><circle cx="2904.5" cy="1235.6" r="6"/><circle cx="2978.7" cy="1225.8" r="6"/><circle cx="3053.0" cy="1225.8" r="6"/></g>
<path d="M825.4,1238.9C850.2,1238.9,874.9,1238.9,899.7,1238.9C924.4,1238.9,949.2,1238.9,973.9,1238.9C998.7,1238.9,1023.4,1238.9,1048.2,1238.9C1072.9,1238.9,1097.7,1238.9,1122.4,1238.9C1147.2,1238.9,1171.9,1238.9,1196.7,1238.9C1221.4,1238.9,1246.2,1238.9,1270.9,1238.9C1295.7,1238.9,1320.4,1238.9,1345.2,1238.9C1369.9,1238.9,1394.7,1238.9,1419.4,1238.9C1444.2,1238.9,1468.9,1238.9,1493.7,1238.9C1518.4,1238.9,1543.2,1238.9,1567.9,1238.9C1592.7,1238.9,1617.4,1238.9,1642.2,1238.9C1666.9,1238.9,1691.7,1238.9,1716.4,1238.9C1741.2,1238.9,1765.9,1238.9,1790.7,1238.9C1815.4,1238.9,1840.2,1238.9,1864.9,1238.9C1889.7,1238.9,1914.4,1238.9,1939.2,1238.9C1963.9,1238.9,1988.7,1238.9,2013.4,1238.9C2038.2,1238.9,2062.9,1238.9,2087.7,1238.9C2112.5,1238.9,2137.2,1238.9,2162.0,1238.9C2186.7,1238.9,2211.5,1238.9,2236.2,1238.9C2261.0,1238.9,2285.7,1238.9,2310.5,1238.9C2335.2,1238.9,2360.0,1238.9,2384.7,1238.9C2409.5,1238.9,2434.2,1235.6,2459.0,1235.6C2483.7,1235.6,2508.5,1235.6,2533.2,1235.6C2558.0,1235.6,2582.7,1235.6,2607.5,1235.6C2632.2,1235.6,2657.0,1238.9,2681.7,1238.9C2706.5,1238.9,2731.2,1238.9,2756.0,1238.9C2780.7,1238.9,2805.5,1238.9,2830.2,1238.9C2855.0,1238.9,2879.7,1238.9,2904.5,1238.9C2929.2,1238.9,2954.0,1234.1,2978.7,1233.7C3003.5,1233.2,3028.2,1233.1,3053.0,1233.0" fill="none" stroke="#a0d8e8" stroke-width="4"/>
<g fill="#fff" stroke="#a0d8e8" stroke-width="4"><circle cx="825.4" cy="1238.9" r="6"/><circle cx="899.7" cy="1238.9" r="6"/><circle cx="973.9" cy="1238.9" r="6"/><circle cx="1048.2" cy="1238.9" r="6"/><circle cx="1122.4" cy="1238.9" r="6"/><circle cx="1196.7" cy="1238.9" r="6"/><circle cx="1270.9" cy="1238.9" r="6"/><circle cx="1345.2" cy="1238.9" r="6"/><circle cx="1419.4" cy="1238.9" r="6"/><circle cx="1493.7" cy="1238.9" r="6"/><circle cx="1567.9" cy="1238.9" r="6"/><circle cx="1642.2" cy="1238.9" r="6"/><circle cx="1716.4" cy="1238.9" r="6"/><circle cx="1790.7" cy="1238.9" r="6"/><circle cx="1864.9" cy="1238.9" r="6"/><circle cx="1939.2" cy="1238.9" r="6"/><circle cx="2013.4" cy="1238.9" r="6"/><circle cx="2087.7" cy="1238.9" r="6"/><circle cx="2162.0" cy="1238.9" r="6"/><circle cx="2236.2" cy="1238.9" r="6"/><circle cx="2310.5" cy="1238.9" r="6"/><circle cx="2384.7" cy="1238.9" r="6"/><circle cx="2459.0" cy="1235.6" r="6"/><circle cx="2533.2" cy="1235.6" r="6"/><circle cx="2607.5" cy="1235.6" r="6"/><circle cx="2681.7" cy="1238.9" r="6"/><circle cx="2756.0" cy="1238.9" r="6"/><circle cx="2830.2" cy="1238.9" r="6"/><circle cx="2904.5" cy="1238.9" r="6"/><circle cx="2978.7" cy="1233.7" r="6"/><circle cx="3053.0" cy="1233.0" r="6"/></g>
<path d="M825.4,1238.9C850.2,1238.9,874.9,1238.9,899.7,1238.9C924.4,1238.9,949.2,1238.9,973.9,1238.9C998.7,1238.9,1023.4,1238.9,1048.2,1238.9C1072.9,1238.9,1097.7,1238.9,1122.4,1238.9C1147.2,1238.9,1171.9,1238.9,1196.7,1238.9C1221.4,1238.9,1246.2,1238.9,1270.9,1238.9C1295.7,1238.9,1320.4,1238.9,1345.2,1238.9C1369.9,1238.9,1394.7,1238.9,1419.4,1238.9C1444.2,1238.9,1468.9,1238.9,1493.7,1238.9C1518.4,1238.9,1543.2,1238.9,1567.9,1238.9C1592.7,1238.9,1617.4,1238.9,1642.2,1238.9C1666.9,1238.9,1691.7,1238.9,1716.4,1238.9C1741.2,1238.9,1765.9,1238.9,1790.7,1238.9C1815.4,1238.9,1840.2,1238.9,1864.9,1238.9C1889.7,1238.9,1914.4,1238.9,1939.2,1238.9C1963.9,1238.9,1988.7,1238.9,2013.4,1238.9C2038.2,1238.9,2062.9,1238.9,2087.7,1238.9C2112.5,1238.9,2137.2,1238.9,2162.0,1238.9C2186.7,1238.9,2211.5,1238.9,2236.2,1238.9C2261.0,1238.9,2285.7,1238.9,2310.5,1238.9C2335.2,1238.9,2360.0,1238.9,2384.7,1238.9C2409.5,1238.9,2434.2,1238.9,2459.0,1238.9C2483.7,1238.9,2508.5,1238.9,2533.2,1238.9C2558.0,1238.9,2582.7,1225.8,2607.5,1225.8C2632.2,1225.8,2657.0,1238.9,2681.7,1238.9C2706.5,1238.9,2731.2,1238.9,2756.0,1238.9C2780.7,1238.9,2805.5,1238.9,2830.2,1238.9C2855.0,1238.9,2879.7,1238.9,2904.5,1238.9C2929.2,1238.9,2954.0,1238.9,2978.7,1238.9C3003.5,1238.9,3028.2,1238.9,3053.0,1238.9" fill="none" stroke="#8884d8" stroke-width="4"/>
<g fill="#fff" stroke="#8884d8" stroke-width="4"><circle cx="825.4" cy="1238.9" r="6"/><circle cx="899.7" cy="1238.9" r="6"/><circle cx="973.9" cy="1238.9" r="6"/><circle cx="1048.2" cy="1238.9" r="6"/><circle cx="1122.4" cy="1238.9" r="6"/><circle cx="1196.7" cy="1238.9" r="6"/><circle cx="1270.9" cy="1238.9" r="6"/><circle cx="1345.2" cy="1238.9" r="6"/><circle cx="1419.4" cy="1238.9" r="6"/><circle cx="1493.7" cy="1238.9" r="6"/><circle cx="1567.9" cy="1238.9" r="6"/><circle cx="1642.2" cy="1238.9" r="6"/><circle cx="1716.4" cy="1238.9" r="6"/><circle cx="1790.7" cy="1238.9" r="6"/><circle cx="1864.9" cy="1238.9" r="6"/><circle cx="1939.2" cy="1238.9" r="6"/><circle cx="2013.4" cy="1238.9" r="6"/><circle cx="2087.7" cy="1238.9" r="6"/><circle cx="2162.0" cy="1238.9" r="6"/><circle cx="2236.2" cy="1238.9" r="6"/><circle cx="2310.5" cy="1238.9" r="6"/><circle cx="2384.7" cy="1238.9" r="6"/><circle cx="2459.0" cy="1238.9" r="6"/><circle cx="2533.2" cy="1238.9" r="6"/><circle cx="2607.5" cy="1225.8" r="6"/><circle cx="2681.7" cy="1238.9" r="6"/><circle cx="2756.0" cy="1238.9" r="6"/><circle cx="2830.2" cy="1238.9" r="6"/><circle cx="2904.5" cy="1238.9" r="6"/><circle cx="2978.7" cy="1238.9" r="6"/><circle cx="3053.0" cy="1238.9" r="6"/></g>
<path d="M825.4,1238.9C850.2,1238.9,874.9,1238.9,899.7,1238.9C924.4,1238.9,949.2,1238.9,973.9,1238.9C998.7,1238.9,1023.4,1238.9,1048.2,1238.9C1072.9,1238.9,1097.7,1238.9,1122.4,1238.9C1147.2,1238.9,1171.9,1238.9,1196.7,1238.9C1221.4,1238.9,1246.2,1238.9,1270.9,1238.9C1295.7,1238.9,1320.4,1238.9,1345.2,1238.9C1369.9,1238.9,1394.7,1238.9,1419.4,1238.9C1444.2,1238.9,1468.9,1238.9,1493.7,1238.9C1518.4,1238.9,1543.2,1238.9,1567.9,1238.9C1592.7,1238.9,1617.4,1238.9,1642.2,1238.9C1666.9,1238.9,1691.7,1238.9,1716.4,1238.9C1741.2,1238.9,1765.9,1238.9,1790.7,1238.9C1815.4,1238.9,1840.2,1238.9,1864.9,1238.9C1889.7,1238.9,1914.4,1238.9,1939.2,1238.9C1963.9,1238.9,1988.7,1238.9,2013.4,1238.9C2038.2,1238.9,2062.9,1238.9,2087.7,1238.9C2112.5,1238.9,2137.2,1238.9,2162.0,1238.9C2186.7,1238.9,2211.5,1238.9,2236.2,1238.9C2261.0,1238.9,2285.7,1238.9,2310.5,1238.9C2335.2,1238.9,2360.0,1238.9,2384.7,1238.9C2409.5,1238.9,2434.2,1238.9,2459.0,1238.9C2483.7,1238.9,2508.5,1238.9,2533.2,1238.9C2558.0,1238.9,2582.7,1234.0,2607.5,1232.4C2632.2,1230.7,2657.0,1229.1,2681.7,1229.1C2706.5,1229.1,2731.2,1234.0,2756.0,1235.6C2780.7,1237.3,2805.5,1238.9,2830.2,1238.9C2855.0,1238.9,2879.7,1238.9,2904.5,1238.9C2929.2,1238.9,2954.0,1229.1,2978.7,1229.1C3003.5,1229.1,3028.2,1229.1,3053.0,1229.1" fill="none" stroke="#8ccba3" stroke-width="4"/>
<g fill="#fff" stroke="#8ccba3" stroke-width="4"><circle cx="825.4" cy="1238.9" r="6"/><circle cx="899.7" cy="1238.9" r="6"/><circle cx="973.9" cy="1238.9" r="6"/><circle cx="1048.2" cy="1238.9" r="6"/><circle cx="1122.4" cy="1238.9" r="6"/><circle cx="1196.7" cy="1238.9" r="6"/><circle cx="1270.9" cy="1238.9" r="6"/><circle cx="1345.2" cy="1238.9" r="6"/><circle cx="1419.4" cy="1238.9" r="6"/><circle cx="1493.7" cy="1238.9" r="6"/><circle cx="1567.9" cy="1238.9" r="6"/><circle cx="1642.2" cy="1238.9" r="6"/><circle cx="1716.4" cy="1238.9" r="6"/><circle cx="1790.7" cy="1238.9" r="6"/><circle cx="1864.9" cy="1238.9" r="6"/><circle cx="1939.2" cy="1238.9" r="6"/><circle cx="2013.4" cy="1238.9" r="6"/><circle cx="2087.7" cy="1238.9" r="6"/><circle cx="2162.0" cy="1238.9" r="6"/><circle cx="2236.2" cy="1238.9" r="6"/><circle cx="2310.5" cy="1238.9" r="6"/><circle cx="2384.7" cy="1238.9" r="6"/><circle cx="2459.0" cy="1238.9" r="6"/><circle cx="2533.2" cy="1238.9" r="6"/><circle cx="2607.5" cy="1232.4" r="6"/><circle cx="2681.7" cy="1229.1" r="6"/><circle cx="2756.0" cy="1235.6" r="6"/><circle cx="2830.2" cy="1238.9" r="6"/><circle cx="2904.5" cy="1238.9" r="6"/><circle cx="2978.7" cy="1229.1" r="6"/><circle cx="3053.0" cy="1229.1" r="6"/></g>
<path d="M825.4,1238.9C850.2,1238.9,874.9,1238.9,899.7,1238.9C924.4,1238.9,949.2,1238.9,973.9,1238.9C998.7,1238.9,1023.4,1238.9,1048.2,1238.9C1072.9,1238.9,1097.7,1238.9,1122.4,1238.9C1147.2,1238.9,1171.9,1238.9,1196.7,1238.9C1221.4,1238.9,1246.2,1238.9,1270.9,1238.9C1295.7,1238.9,1320.4,1238.9,1345.2,1238.9C1369.9,1238.9,1394.7,1238.9,1419.4,1238.9C1444.2,1238.9,1468.9,1238.9,1493.7,1238.9C1518.4,1238.9,1543.2,1238.9,1567.9,1238.9C1592.7,1238.9,1617.4,1238.9,1642.2,1238.9C1666.9,1238.9,1691.7,1238.9,1716.4,1238.9C1741.2,1238.9,1765.9,1238.9,1790.7,1238.9C1815.4,1238.9,1840.2,1238.9,1864.9,1238.9C1889.7,1238.9,1914.4,1238.9,1939.2,1238.9C1963.9,1238.9,1988.7,1238.9,2013.4,1238.9C2038.2,1238.9,2062.9,1238.9,2087.7,1238.9C2112.5,1238.9,2137.2,1238.9,2162.0,1238.9C2186.7,1238.9,2211.5,1238.9,2236.2,1238.9C2261.0,1238.9,2285.7,1238.9,2310.5,1238.9C2335.2,1238.9,2360.0,1238.9,2384.7,1238.9C2409.5,1238.9,2434.2,1238.9,2459.0,1238.9C2483.7,1238.9,2508.5,1238.9,2533.2,1238.9C2558.0,1238.9,2582.7,1235.6,2607.5,1235.6C2632.2,1235.6,2657.0,1235.6,2681.7,1235.6C2706.5,1235.6,2731.2,1235.6,2756.0,1235.6C2780.7,1235.6,2805.5,1238.9,2830.2,1238.9C2855.0,1238.9,2879.7,1238.9,2904.5,1238.9C2929.2,1238.9,2954.0,1232.4,2978.7,1232.4C3003.5,1232.4,3028.2,1234.8,3053.0,1237.3" fill="none" stroke="#f9c75f" stroke-width="4"/>
<g fill="#fff" stroke="#f9c75f" stroke-width="4"><circle cx="825.4" cy="1238.9" r="6"/><circle cx="899.7" cy="1238.9" r="6"/><circle cx="973.9" cy="1238.9" r="6"/><circle cx="1048.2" cy="1238.9" r="6"/><circle cx="1122.4" cy="1238.9" r="6"/><circle cx="1196.7" cy="1238.9" r="6"/><circle cx="1270.9" cy="1238.9" r="6"/><circle cx="1345.2" cy="1238.9" r="6"/><circle cx="1419.4" cy="1238.9" r="6"/><circle cx="1493.7" cy="1238.9" r="6"/><circle cx="1567.9" cy="1238.9" r="6"/><circle cx="1642.2" cy="1238.9" r="6"/><circle cx="1716.4" cy="1238.9" r="6"/><circle cx="1790.7" cy="1238.9" r="6"/><circle cx="1864.9" cy="1238.9" r="6"/><circle cx="1939.2" cy="1238.9" r="6"/><circle cx="2013.4" cy="1238.9" r="6"/><circle cx="2087.7" cy="1238.9" r="6"/><circle cx="2162.0" cy="1238.9" r="6"/><circle cx="2236.2" cy="1238.9" r="6"/><circle cx="2310.5" cy="1238.9" r="6"/><circle cx="2384.7" cy="1238.9" r="6"/><circle cx="2459.0" cy="1238.9" r="6"/><circle cx="2533.2" cy="1238.9" r="6"/><circle cx="2607.5" cy="1235.6" r="6"/><circle cx="2681.7" cy="1235.6" r="6"/><circle cx="2756.0" cy="1235.6" r="6"/><circle cx="2830.2" cy="1238.9" r="6"/><circle cx="2904.5" cy="1238.9" r="6"/><circle cx="2978.7" cy="1232.4" r="6"/><circle cx="3053.0" cy="1237.3" r="6"/></g>
<path d="M825.4,1238.9C850.2,1238.9,874.9,1238.9,899.7,1238.9C924.4,1238.9,949.2,1238.9,973.9,1238.9C998.7,1238.9,1023.4,1238.9,1048.2,1238.9C1072.9,1238.9,1097.7,1238.9,1122.4,1238.9C1147.2,1238.9,1171.9,1238.9,1196.7,1238.9C1221.4,1238.9,1246.2,1238.9,1270.9,1238.9C1295.7,1238.9,1320.4,1238.9,1345.2,1238.9C1369.9,1238.9,1394.7,1238.9,1419.4,1238.9C1444.2,1238.9,1468.9,1238.9,1493.7,1238.9C1518.4,1238.9,1543.2,1238.9,1567.9,1238.9C1592.7,1238.9,1617.4,1238.9,1642.2,1238.9C1666.9,1238.9,1691.7,1238.9,1716.4,1238.9C1741.2,1238.9,1765.9,1238.9,1790.7,1238.9C1815.4,1238.9,1840.2,1238.9,1864.9,1238.9C1889.7,1238.9,1914.4,1238.9,1939.2,1238.9C1963.9,1238.9,1988.7,1238.9,2013.4,1238.9C2038.2,1238.9,2062.9,1238.9,2087.7,1238.9C2112.5,1238.9,2137.2,1238.9,2162.0,1238.9C2186.7,1238.9,2211.5,1238.9,2236.2,1238.9C2261.0,1238.9,2285.7,1238.9,2310.5,1238.9C2335.2,1238.9,2360.0,1238.9,2384.7,1238.9C2409.5,1238.9,2434.2,1238.9,2459.0,1238.9C2483.7,1238.9,2508.5,1238.9,2533.2,1238.9C2558.0,1238.9,2582.7,1238.9,2607.5,1238.9C2632.2,1238.9,2657.0,1232.4,2681.7,1232.4C2706.5,1232.4,2731.2,1238.9,2756.0,1238.9C2780.7,1238.9,2805.5,1238.9,2830.2,1238.9C2855.0,1238.9,2879.7,1238.9,2904.5,1238.9C2929.2,1238.9,2954.0,1225.8,2978.7,1225.8C3003.5,1225.8,3028.2,1225.8,3053.0,1225.8" fill="none" stroke="#f47f30" stroke-width="4"/>
<g fill="#fff" stroke="#f47f30" stroke-width="4"><circle cx="825.4" cy="1238.9" r="6"/><circle cx="899.7" cy="1238.9" r="6"/><circle cx="973.9" cy="1238.9" r="6"/><circle cx="1048.2" cy="1238.9" r="6"/><circle cx="1122.4" cy="1238.9" r="6"/><circle cx="1196.7" cy="1238.9" r="6"/><circle cx="1270.9" cy="1238.9" r="6"/><circle cx="1345.2" cy="1238.9" r="6"/><circle cx="1419.4" cy="1238.9" r="6"/><circle cx="1493.7" cy="1238.9" r="6"/><circle cx="1567.9" cy="1238.9" r="6"/><circle cx="1642.2" cy="1238.9" r="6"/><circle cx="1716.4" cy="1238.9" r="6"/><circle cx="1790.7" cy="1238.9" r="6"/><circle cx="1864.9" cy="1238.9" r="6"/><circle cx="1939.2" cy="1238.9" r="6"/><circle cx="2013.4" cy="1238.9" r="6"/><circle cx="2087.7" cy="1238.9" r="6"/><circle cx="2162.0" cy="1238.9" r="6"/><circle cx="2236.2" cy="1238.9" r="6"/><circle cx="2310.5" cy="1238.9" r="6"/><circle cx="2384.7" cy="1238.9" r="6"/><circle cx="2459.0" cy="1238.9" r="6"/><circle cx="2533.2" cy="1238.9" r="6"/><circle cx="2607.5" cy="1238.9" r="6"/><circle cx="2681.7" cy="1232.4" r="6"/><circle cx="2756.0" cy="1238.9" r="6"/><circle cx="2830.2" cy="1238.9" r="6"/><circle cx="2904.5" cy="1238.9" r="6"/><circle cx="2978.7" cy="1225.8" r="6"/><circle cx="3053.0" cy="1225.8" r="6"/></g>
<path d="M825.4,1238.9C850.2,1238.9,874.9,1238.9,899.7,1238.9C924.4,1238.9,949.2,1238.9,973.9,1238.9C998.7,1238.9,1023.4,1238.9,1048.2,1238.9C1072.9,1238.9,1097.7,1238.9,1122.4,1238.9C1147.2,1238.9,1171.9,1238.9,1196.7,1238.9C1221.4,1238.9,1246.2,1238.9,1270.9,1238.9C1295.7,1238.9,1320.4,1238.9,1345.2,1238.9C1369.9,1238.9,1394.7,1238.9,1419.4,1238.9C1444.2,1238.9,1468.9,1238.9,1493.7,1238.9C1518.4,1238.9,1543.2,1238.9,1567.9,1238.9C1592.7,1238.9,1617.4,1238.9,1642.2,1238.9C1666.9,1238.9,1691.7,1238.9,1716.4,1238.9C1741.2,1238.9,1765.9,1238.9,1790.7,1238.9C1815.4,1238.9,1840.2,1238.9,1864.9,1238.9C1889.7,1238.9,1914.4,1238.9,1939.2,1238.9C1963.9,1238.9,1988.7,1238.9,2013.4,1238.9C2038.2,1238.9,2062.9,1238.9,2087.7,1238.9C2112.5,1238.9,2137.2,1238.9,2162.0,1238.9C2186.7,1238.9,2211.5,1238.9,2236.2,1238.9C2261.0,1238.9,2285.7,1238.9,2310.5,1238.9C2335.2,1238.9,2360.0,1238.9,2384.7,1238.9C2409.5,1238.9,2434.2,1238.9,2459.0,1238.9C2483.7,1238.9,2508.5,1238.9,2533.2,1238.9C2558.0,1238.9,2582.7,1238.9,2607.5,1238.9C2632.2,1238.9,2657.0,1238.9,2681.7,1238.9C2706.5,1238.9,2731.2,1231.3,2756.0,1229.1C2780.7,1226.9,2805.5,1225.8,2830.2,1225.8C2855.0,1225.8,2879.7,1233.4,2904.5,1235.6C2929.2,1237.8,2954.0,1238.9,2978.7,1238.9C3003.5,1238.9,3028.2,1238.9,3053.0,1238.9" fill="none" stroke="#a0d8e8" stroke-width="4"/>
<g fill="#fff" stroke="#a0d8e8" stroke-width="4"><circle cx="825.4" cy="1238.9" r="6"/><circle cx="899.7" cy="1238.9" r="6"/><circle cx="973.9" cy="1238.9" r="6"/><circle cx="1048.2" cy="1238.9" r="6"/><circle cx="1122.4" cy="1238.9" r="6"/><circle cx="1196.7" cy="1238.9" r="6"/><circle cx="1270.9" cy="1238.9" r="6"/><circle cx="1345.2" cy="1238.9" r="6"/><circle cx="1419.4" cy="1238.9" r="6"/><circle cx="1493.7" cy="1238.9" r="6"/><circle cx="1567.9" cy="1238.9" r="6"/><circle cx="1642.2" cy="1238.9" r="6"/><circle cx="1716.4" cy="1238.9" r="6"/><circle cx="1790.7" cy="1238.9" r="6"/><circle cx="1864.9" cy="1238.9" r="6"/><circle cx="1939.2" cy="1238.9" r="6"/><circle cx="2013.4" cy="1238.9" r="6"/><circle cx="2087.7" cy="1238.9" r="6"/><circle cx="2162.0" cy="1238.9" r="6"/><circle cx="2236.2" cy="1238.9" r="6"/><circle cx="2310.5" cy="1238.9" r="6"/><circle cx="2384.7" cy="1238.9" r="6"/><circle cx="2459.0" cy="1238.9" r="6"/><circle cx="2533.2" cy="1238.9" r="6"/><circle cx="2607.5" cy="1238.9" r="6"/><circle cx="2681.7" cy="1238.9" r="6"/><circle cx="2756.0" cy="1229.1" r="6"/><circle cx="2830.2" cy="1225.8" r="6"/><circle cx="2904.5" cy="1235.6" r="6"/><circle cx="2978.7" cy="1238.9" r="6"/><circle cx="3053.0" cy="1238.9" r="6"/></g>
<path d="M825.4,1238.9C850.2,1238.9,874.9,1238.9,899.7,1238.9C924.4,1238.9,949.2,1238.9,973.9,1238.9C998.7,1238.9,1023.4,1238.9,1048.2,1238.9C1072.9,1238.9,1097.7,1238.9,1122.4,1238.9C1147.2,1238.9,1171.9,1238.9,1196.7,1238.9C1221.4,1238.9,1246.2,1238.9,1270.9,1238.9C1295.7,1238.9,1320.4,1238.9,1345.2,1238.9C1369.9,1238.9,1394.7,1238.9,1419.4,1238.9C1444.2,1238.9,1468.9,1238.9,1493.7,1238.9C1518.4,1238.9,1543.2,1238.9,1567.9,1238.9C1592.7,1238.9,1617.4,1238.9,1642.2,1238.9C1666.9,1238.9,1691.7,1238.9,1716.4,1238.9C1741.2,1238.9,1765.9,1238.9,1790.7,1238.9C1815.4,1238.9,1840.2,1238.9,1864.9,1238.9C1889.7,1238.9,1914.4,1238.9,1939.2,1238.9C1963.9,1238.9,1988.7,1238.9,2013.4,1238.9C2038.2,1238.9,2062.9,1238.9,2087.7,1238.9C2112.5,1238.9,2137.2,1238.9,2162.0,1238.9C2186.7,1238.9,2211.5,1238.9,2236.2,1238.9C2261.0,1238.9,2285.7,1238.9,2310.5,1238.9C2335.2,1238.9,2360.0,1238.9,2384.7,1238.9C2409.5,1238.9,2434.2,1238.9,2459.0,1238.9C2483.7,1238.9,2508.5,1238.9,2533.2,1238.9C2558.0,1238.9,2582.7,1238.9,2607.5,1238.9C2632.2,1238.9,2657.0,1238.9,2681.7,1238.9C2706.5,1238.9,2731.2,1238.9,2756.0,1238.9C2780.7,1238.9,2805.5,1238.9,2830.2,1238.9C2855.0,1238.9,2879.7,1238.9,2904.5,1238.9C2929.2,1238.9,2954.0,1235.6,2978.7,1235.6C3003.5,1235.6,3028.2,1237.3,3053.0,1238.9" fill="none" stroke="#8884d8" stroke-width="4"/>
<g fill="#fff" stroke="#8884d8" stroke-width="4"><circle cx="825.4" cy="1238.9" r="6"/><circle cx="899.7" cy="1238.9" r="6"/><circle cx="973.9" cy="1238.9" r="6"/><circle cx="1048.2" cy="1238.9" r="6"/><circle cx="1122.4" cy="1238.9" r="6"/><circle cx="1196.7" cy="1238.9" r="6"/><circle cx="1270.9" cy="1238.9" r="6"/><circle cx="1345.2" cy="1238.9" r="6"/><circle cx="1419.4" cy="1238.9" r="6"/><circle cx="1493.7" cy="1238.9" r="6"/><circle cx="1567.9" cy="1238.9" r="6"/><circle cx="1642.2" cy="1238.9" r="6"/><circle cx="1716.4" cy="1238.9" r="6"/><circle cx="1790.7" cy="1238.9" r="6"/><circle cx="1864.9" cy="1238.9" r="6"/><circle cx="1939.2" cy="1238.9" r="6"/><circle cx="2013.4" cy="1238.9" r="6"/><circle cx="2087.7" cy="1238.9" r="6"/><circle cx="2162.0" cy="1238.9" r="6"/><circle cx="2236.2" cy="1238.9" r="6"/><circle cx="2310.5" cy="1238.9" r="6"/><circle cx="2384.7" cy="1238.9" r="6"/><circle cx="2459.0" cy="1238.9" r="6"/><circle cx="2533.2" cy="1238.9" r="6"/><circle cx="2607.5" cy="1238.9" r="6"/><circle cx="2681.7" cy="1238.9" r="6"/><circle cx="2756.0" cy="1238.9" r="6"/><circle cx="2830.2" cy="1238.9" r="6"/><circle cx="2904.5" cy="1238.9" r="6"/><circle cx="2978.7" cy="1235.6" r="6"/><circle cx="3053.0" cy="1238.9" r="6"/></g>
</svg>
<div class="legend"><span class="li" style="color:#8884d8"><svg width="28" height="28" viewBox="0 0 32 32"><path stroke-width="4" fill="none" stroke="#8884d8" d="M0,16h10.666666666666666A5.333333333333333,5.333333333333333,0,1,1,21.333333333333332,16H32M21.333333333333332,16A5.333333333333333,5.333333333333333,0,1,1,10.666666666666666,16"/></svg>whisper-large-v3-turbo</span><span class="li" style="color:#8ccba3"><svg width="28" height="28" viewBox="0 0 32 32"><path stroke-width="4" fill="none" stroke="#8ccba3" d="M0,16h10.666666666666666A5.333333333333333,5.333333333333333,0,1,1,21.333333333333332,16H32M21.333333333333332,16A5.333333333333333,5.333333333333333,0,1,1,10.666666666666666,16"/></svg>whisper-base</span><span class="li" style="color:#f9c75f"><svg width="28" height="28" viewBox="0 0 32 32"><path stroke-width="4" fill="none" stroke="#f9c75f" d="M0,16h10.666666666666666A5.333333333333333,5.333333333333333,0,1,1,21.333333333333332,16H32M21.333333333333332,16A5.333333333333333,5.333333333333333,0,1,1,10.666666666666666,16"/></svg>kokoro-tts-82m</span><span class="li" style="color:#f47f30"><svg width="28" height="28" viewBox="0 0 32 32"><path stroke-width="4" fill="none" stroke="#f47f30" d="M0,16h10.666666666666666A5.333333333333333,5.333333333333333,0,1,1,21.333333333333332,16H32M21.333333333333332,16A5.333333333333333,5.333333333333333,0,1,1,10.666666666666666,16"/></svg>whisper-large-v3-turbo-fast</span><span class="li" style="color:#a0d8e8"><svg width="28" height="28" viewBox="0 0 32 32"><path stroke-width="4" fill="none" stroke="#a0d8e8" d="M0,16h10.666666666666666A5.333333333333333,5.333333333333333,0,1,1,21.333333333333332,16H32M21.333333333333332,16A5.333333333333333,5.333333333333333,0,1,1,10.666666666666666,16"/></svg>rmbg-modnet</span><span class="li" style="color:#8884d8"><svg width="28" height="28" viewBox="0 0 32 32"><path stroke-width="4" fill="none" stroke="#8884d8" d="M0,16h10.666666666666666A5.333333333333333,5.333333333333333,0,1,1,21.333333333333332,16H32M21.333333333333332,16A5.333333333333333,5.333333333333333,0,1,1,10.666666666666666,16"/></svg>rmbg-birefnet-lite</span><span class="li" style="color:#8ccba3"><svg width="28" height="28" viewBox="0 0 32 32"><path stroke-width="4" fill="none" stroke="#8ccba3" d="M0,16h10.666666666666666A5.333333333333333,5.333333333333333,0,1,1,21.333333333333332,16H32M21.333333333333332,16A5.333333333333333,5.333333333333333,0,1,1,10.666666666666666,16"/></svg>rmbg-ormbg</span><span class="li" style="color:#f9c75f"><svg width="28" height="28" viewBox="0 0 32 32"><path stroke-width="4" fill="none" stroke="#f9c75f" d="M0,16h10.666666666666666A5.333333333333333,5.333333333333333,0,1,1,21.333333333333332,16H32M21.333333333333332,16A5.333333333333333,5.333333333333333,0,1,1,10.666666666666666,16"/></svg>rmbg-ben2</span><br><span class="li" style="color:#f47f30"><svg width="28" height="28" viewBox="0 0 32 32"><path stroke-width="4" fill="none" stroke="#f47f30" d="M0,16h10.666666666666666A5.333333333333333,5.333333333333333,0,1,1,21.333333333333332,16H32M21.333333333333332,16A5.333333333333333,5.333333333333333,0,1,1,10.666666666666666,16"/></svg>rmbg-birefnet-f</span><span class="li" style="color:#a0d8e8"><svg width="28" height="28" viewBox="0 0 32 32"><path stroke-width="4" fill="none" stroke="#a0d8e8" d="M0,16h10.666666666666666A5.333333333333333,5.333333333333333,0,1,1,21.333333333333332,16H32M21.333333333333332,16A5.333333333333333,5.333333333333333,0,1,1,10.666666666666666,16"/></svg>seg-slimsam-77-uniform</span><span class="li" style="color:#8884d8"><svg width="28" height="28" viewBox="0 0 32 32"><path stroke-width="4" fill="none" stroke="#8884d8" d="M0,16h10.666666666666666A5.333333333333333,5.333333333333333,0,1,1,21.333333333333332,16H32M21.333333333333332,16A5.333333333333333,5.333333333333333,0,1,1,10.666666666666666,16"/></svg>whisper-base-en</span></div>
<div class="abs t" style="left:745px;top:1518.50px;font-size:28px;line-height:28px;color:#a1a1aa;font-weight:normal;">3006 downloads found</div>
<div class="abs" style="left:2906px;top:1501px;width:207px;height:64px;border:2px solid #232a3a;border-radius:12px;box-sizing:border-box"></div>
<svg class="abs" style="left:2932px;top:1517px;" width="32" height="32" viewBox="0 0 24 24" fill="none" stroke="#fafafa" stroke-width="2" stroke-linecap="round" stroke-linejoin="round"><path d="M21 15v4a2 2 0 0 1-2 2H5a2 2 0 0 1-2-2v-4"/><polyline points="7 10 12 15 17 10"/><line x1="12" x2="12" y1="15" y2="3"/></svg>
<div class="abs t" style="left:2980px;top:1521.18px;font-size:24px;line-height:24px;color:#fafafa;font-weight:normal;">Download</div>
<div class="abs" style="left:745px;top:1597px;width:2367px;height:500px;border:2px solid #27272a;border-radius:14px;box-sizing:border-box;overflow:hidden"><div style="height:95px;background:#18181b;border-bottom:2px solid #27272a"></div></div>
<div class="abs t" style="left:763px;top:1632.60px;font-size:28px;line-height:28px;color:#a1a1aa;font-weight:normal;">Date</div>
<div class="abs t" style="left:1146px;top:1632.60px;font-size:28px;line-height:28px;color:#a1a1aa;font-weight:normal;">Model ID</div>
<div class="abs t" style="left:1566px;top:1632.60px;font-size:28px;line-height:28px;color:#a1a1aa;font-weight:normal;">Type</div>
<div class="abs t" style="left:1720px;top:1632.60px;font-size:28px;line-height:28px;color:#a1a1aa;font-weight:normal;">Precision</div>
<div class="abs t" style="left:1918px;top:1632.60px;font-size:28px;line-height:28px;color:#a1a1aa;font-weight:normal;">Price</div>
<div class="abs t" style="left:2076px;top:1632.60px;font-size:28px;line-height:28px;color:#a1a1aa;font-weight:normal;">Status</div>
<div class="abs t" style="left:2300px;top:1632.60px;font-size:28px;line-height:28px;color:#a1a1aa;font-weight:normal;">Client Identifier</div>
<svg class="abs" style="left:830px;top:1631px;" width="32" height="32" viewBox="0 0 24 24" fill="none" stroke="#a1a1aa" stroke-width="2" stroke-linecap="round" stroke-linejoin="round"><path d="m6 9 6 6 6-6"/></svg>
<div class="abs t" style="left:795px;top:1733.80px;font-size:28px;line-height:28px;color:#fafafa;font-weight:normal;">2025-09-01 02:38</div>
<div class="abs t" style="left:1146px;top:1733.80px;font-size:28px;line-height:28px;color:#fafafa;font-weight:normal;">whisper-base</div>
<div class="abs t" style="left:1566px;top:1727px;width:82px;height:43px;border-radius:22px;background:#36161d;color:#ec5569;font-size:24px;line-height:43px;text-align:center">Prod</div>
<div class="abs t" style="left:1720px;top:1733.80px;font-size:28px;line-height:28px;color:#fafafa;font-weight:normal;">q8</div>
<div class="abs t" style="left:1918px;top:1733.80px;font-size:28px;line-height:28px;color:#fafafa;font-weight:normal;">$0.030</div>
<div class="abs t" style="left:2076px;top:1727px;width:135px;height:43px;border-radius:22px;background:#17261a;color:#9eebb0;font-size:24px;line-height:43px;text-align:center">Complete</div>
<div class="abs t" style="left:2300px;top:1733.80px;font-size:28px;line-height:28px;color:#fafafa;font-weight:normal;">srt-generator</div>
<div class="abs" style="left:747px;top:1800px;width:2363px;height:2px;background:#27272a"></div>
<div class="abs t" style="left:795px;top:1839.80px;font-size:28px;line-height:28px;color:#fafafa;font-weight:normal;">2025-09-01 02:33</div>
<div class="abs t" style="left:1146px;top:1839.80px;font-size:28px;line-height:28px;color:#fafafa;font-weight:normal;">whisper-large-v3-turbo</div>
<div class="abs t" style="left:1566px;top:1833px;width:82px;height:43px;border-radius:22px;background:#36161d;color:#ec5569;font-size:24px;line-height:43px;text-align:center">Prod</div>
<div class="abs t" style="left:1720px;top:1839.80px;font-size:28px;line-height:28px;color:#fafafa;font-weight:normal;">q4f16</div>
<div class="abs t" style="left:1918px;top:1839.80px;font-size:28px;line-height:28px;color:#fafafa;font-weight:normal;">$0.090</div>
<div class="abs t" style="left:2076px;top:1833px;width:135px;height:43px;border-radius:22px;background:#17261a;color:#9eebb0;font-size:24px;line-height:43px;text-align:center">Complete</div>
<div class="abs t" style="left:2300px;top:1839.80px;font-size:28px;line-height:28px;color:#fafafa;font-weight:normal;">srt-generator:</div>
<div class="abs t" style="left:2653px;top:1839.80px;font-size:28px;line-height:28px;color:#fafafa;font-weight:normal;">@gmail.com</div>
<div class="abs" style="left:2477px;top:1843.5px;width:4px;height:4px;background:#e4e4e6"></div>
<div class="abs" style="left:2510.5px;top:1843.5px;width:3px;height:4px;background:#e4e4e6"></div>
<div class="abs" style="left:2594.5px;top:1843.5px;width:2.5px;height:4px;background:#e4e4e6"></div>
<div class="abs" style="left:2599px;top:1843.5px;width:2.5px;height:4px;background:#e4e4e6"></div>
<div class="abs" style="left:2632px;top:1843.5px;width:2.5px;height:4px;background:#e4e4e6"></div>
<div class="abs" style="left:2464.5px;top:1847px;width:31px;height:18px;background:#050506"></div>
<div class="abs" style="left:2495.5px;top:1847px;width:24px;height:18px;background:#000"></div>
<div class="abs" style="left:2519.5px;top:1847px;width:24px;height:18px;background:#dedee0"></div>
<div class="abs" style="left:2543.5px;top:1847px;width:24px;height:18px;background:#e6e6e8"></div>
<div class="abs" style="left:2567.5px;top:1847px;width:24px;height:18px;background:#b0b0b2"></div>
<div class="abs" style="left:2591.5px;top:1847px;width:24px;height:18px;background:#000"></div>
<div class="abs" style="left:2615.5px;top:1847px;width:24px;height:18px;background:#787879"></div>
<div class="abs" style="left:2639.5px;top:1845px;width:24px;height:18px;background:#3e3e40"></div>
<div class="abs" style="left:2663.5px;top:1844px;width:24px;height:18px;background:#a6a6a8"></div>
<div class="abs" style="left:2687.5px;top:1844px;width:24px;height:18px;background:#555557"></div>
<div class="abs" style="left:2711.5px;top:1844px;width:24px;height:22px;border-radius:2px 11px 11px 2px;background:#f8f8fa"></div>
<div class="abs" style="left:747px;top:1906px;width:2363px;height:2px;background:#27272a"></div>
<div class="abs t" style="left:795px;top:1945.80px;font-size:28px;line-height:28px;color:#fafafa;font-weight:normal;">2025-09-01 01:46</div>
<div class="abs t" style="left:1146px;top:1945.80px;font-size:28px;line-height:28px;color:#fafafa;font-weight:normal;">whisper-large-v3-turbo</div>
<div class="abs t" style="left:1566px;top:1939px;width:82px;height:43px;border-radius:22px;background:#36161d;color:#ec5569;font-size:24px;line-height:43px;text-align:center">Prod</div>
<div class="abs t" style="left:1720px;top:1945.80px;font-size:28px;line-height:28px;color:#fafafa;font-weight:normal;">q4f16</div>
<div class="abs t" style="left:1918px;top:1945.80px;font-size:28px;line-height:28px;color:#fafafa;font-weight:normal;">$0.090</div>
<div class="abs t" style="left:2076px;top:1939px;width:135px;height:43px;border-radius:22px;background:#17261a;color:#9eebb0;font-size:24px;line-height:43px;text-align:center">Complete</div>
<div class="abs t" style="left:2300px;top:1945.80px;font-size:28px;line-height:28px;color:#fafafa;font-weight:normal;">srt-generator</div>
<div class="abs" style="left:3444px;top:0;width:8px;height:1309px;background:#2b2b2b"></div>
</div></body></html>
